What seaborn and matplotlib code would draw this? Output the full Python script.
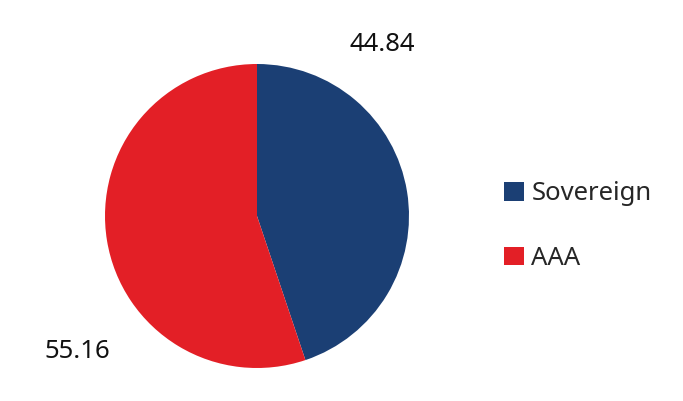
"""Pie chart: Sovereign vs AAA split."""
import matplotlib

matplotlib.use("Agg")
import matplotlib.pyplot as plt
import seaborn as sns
from matplotlib.patches import Patch

categories = ["Sovereign", "AAA"]
shares = [44.84, 55.16]
share_labels = ["44.84", "55.16"]
colors = ["#1b3f74", "#e31f26"]

sns.set_theme(style="white")
plt.rcParams["font.family"] = ["Noto Sans", "DejaVu Sans"]

W, H = 683, 401
fig = plt.figure(figsize=(W / 100, H / 100), dpi=100)
fig.patch.set_facecolor("white")

cx, cy, r = 257, 216, 152
ax = fig.add_axes([(cx - r) / W, (H - cy - r) / H, 2 * r / W, 2 * r / H])
ax.pie(shares, colors=colors, startangle=90, counterclock=False, radius=1,
       wedgeprops={"linewidth": 0})
ax.set_xlim(-1, 1)
ax.set_ylim(-1, 1)
ax.set_aspect("equal")
ax.axis("off")

# value labels sit outside the pie
label_pos = [(0.825, 1.13), (-1.18, -0.89)]
for txt, (x, y) in zip(share_labels, label_pos):
    ax.text(x, y, txt, ha="center", va="center", fontsize=18.5, color="#111111",
            clip_on=False)

handles = [Patch(facecolor=c, edgecolor="none") for c in colors]
fig.legend(handles, categories, loc="center left",
           bbox_to_anchor=(494 / W, 1 - 226 / H), frameon=False, fontsize=18.5,
           handlelength=0.75, handleheight=0.75, handletextpad=0.3,
           labelspacing=1.55, borderaxespad=0)

fig.savefig("out.png", dpi=100, facecolor="white")
